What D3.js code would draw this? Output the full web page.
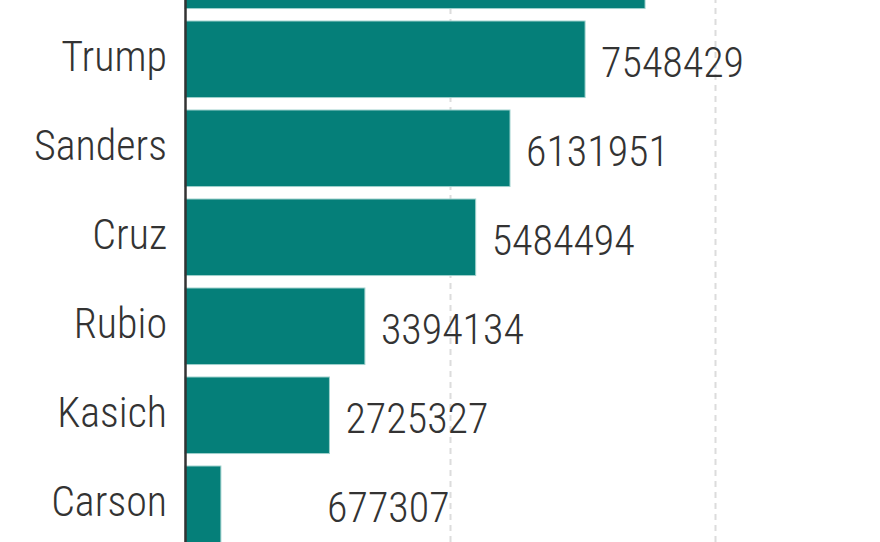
<!DOCTYPE html>
<html>
<head>
<meta charset="utf-8">
<script src="https://cdn.jsdelivr.net/npm/d3@7"></script>
<style>
  html, body { margin: 0; padding: 0; background: #fff; overflow: hidden; }
  .chart text {
    font-family: "Roboto Condensed", "Liberation Sans Narrow", "Arial Narrow", "Nimbus Sans Narrow", Roboto, sans-serif;
    font-stretch: condensed;
    font-weight: 300;
    fill: #333;
  }
</style>
</head>
<body>
<div class="chart"></div>
<script>
// candidates, top to bottom (the first bar is cut off by the frame)
const candidates = ["Clinton", "Trump", "Sanders", "Cruz", "Rubio", "Kasich", "Carson"];
const votes = [8680000, 7548429, 6131951, 5484494, 3394134, 2725327, 677307];
const gridTicks = [5000000, 10000000];

const W = 880, H = 542;
const margin = { top: -68, left: 185 };

const svg = d3.select(".chart")
  .append("svg")
  .attr("width", W)
  .attr("height", H);

const x = d3.scaleLinear()
  .domain([0, 10000000])
  .range([margin.left, margin.left + 530]);

const y = d3.scaleBand()
  .domain(candidates)
  .range([margin.top, margin.top + 89 * (candidates.length - 0.14)])
  .paddingInner(0.14)
  .paddingOuter(0);

// dashed grid lines behind the bars
const grid = svg.append("g")
  .attr("transform", `translate(0,${H})`)
  .call(d3.axisBottom(x).tickValues(gridTicks).tickSize(-H).tickFormat(""));
grid.select(".domain").remove();
grid.selectAll("line")
  .attr("stroke", "#dcdcdc")
  .attr("stroke-width", 2)
  .attr("stroke-dasharray", "6,5");

const data = candidates.map((c, i) => ({ name: c, value: votes[i] }));
// only rows whose band starts inside the frame get text
const inFrame = d => y(d.name) >= 0;

svg.append("g")
  .selectAll("rect")
  .data(data)
  .join("rect")
  .attr("x", x(0))
  .attr("y", d => y(d.name))
  .attr("width", d => x(d.value) - x(0))
  .attr("height", y.bandwidth())
  .attr("fill", "#057f79")
  .attr("stroke", "#9fd1cd")
  .attr("stroke-width", 1);

// value labels, never closer to the axis than a minimum position
const labelMin = 2680000;
svg.append("g")
  .selectAll("text")
  .data(data.filter(inFrame))
  .join("text")
  .attr("x", d => Math.max(x(d.value) + 16, x(labelMin)))
  .attr("y", d => y(d.name) + y.bandwidth() / 2)
  .attr("dy", "0.42em")
  .style("font-size", "42px")
  .text(d => d.value);

// category axis
const yAxis = svg.append("g")
  .attr("transform", `translate(${x(0)},0)`)
  .call(d3.axisLeft(y).tickSize(0).tickPadding(18));
yAxis.select(".domain")
  .attr("stroke", "#333")
  .attr("stroke-width", 2.5);
yAxis.selectAll(".tick")
  .filter(n => y(n) < 0)
  .remove();
yAxis.selectAll("text")
  .style("font-size", "42px")
  .attr("dy", "0.28em");
</script>
</body>
</html>
